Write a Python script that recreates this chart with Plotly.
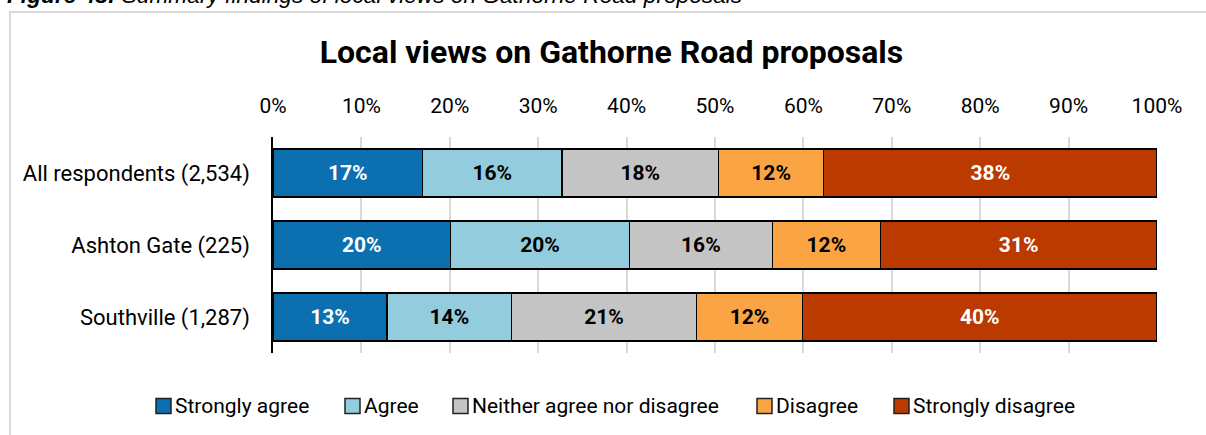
import plotly.graph_objects as go

categories = ["All respondents (2,534)", "Ashton Gate (225)", "Southville (1,287)"]
series_names = ["Strongly agree", "Agree", "Neither agree nor disagree", "Disagree", "Strongly disagree"]
strongly_agree = [16.9, 20.1, 12.9]
agree = [15.8, 20.2, 14.1]
neither = [17.7, 16.2, 20.9]
disagree = [11.9, 12.2, 12.0]
strongly_disagree = [37.7, 31.3, 40.1]
tick_values = [0, 10, 20, 30, 40, 50, 60, 70, 80, 90, 100]
tick_labels = ["0%", "10%", "20%", "30%", "40%", "50%", "60%", "70%", "80%", "90%", "100%"]

colors = ["#0B6FB0", "#93CDDD", "#C4C4C4", "#FAA443", "#BA3A00"]
text_colors = ["white", "black", "black", "black", "white"]
series_values = [strongly_agree, agree, neither, disagree, strongly_disagree]

FONT = "Roboto"
W, H = 1206, 435
ML, MR, MT, MB = 273, 49, 137, 82
PW, PH = W - ML - MR, H - MT - MB

fig = go.Figure()
for name, vals, col, tcol in zip(series_names, series_values, colors, text_colors):
    fig.add_trace(go.Bar(
        y=categories, x=vals, name=name, orientation="h",
        marker=dict(color=col, line=dict(color="black", width=1.5)),
        width=0.667, showlegend=False,
        texttemplate="%{x:.0f}%", textposition="inside", insidetextanchor="middle",
        textfont=dict(family=FONT, size=21, color=tcol, weight="bold"),
        hoverinfo="skip",
    ))

def px_x(p):
    return (p - ML) / PW

def px_y(p):
    return (H - MB - p) / PH

# outer chart frame (extends beyond the visible area on right/bottom)
fig.add_shape(type="rect", xref="paper", yref="paper",
              x0=px_x(10), x1=px_x(1400), y0=px_y(12), y1=px_y(600),
              line=dict(color="#D9D9D9", width=2), fillcolor="rgba(0,0,0,0)", layer="below")

# figure caption (partly cut off at the top, as in the source)
fig.add_annotation(xref="paper", yref="paper", x=px_x(5), y=px_y(10),
                   xanchor="left", yanchor="bottom", showarrow=False,
                   text="<b><i>Figure 48:</i></b><i> Summary findings of local views on Gathorne Road proposals</i>",
                   font=dict(family="Liberation Sans", size=22.7, color="black"))

# manual legend below the plot
legend_text_x = [175, 364, 472, 776, 913]
legend_y = 406
for name, col, tx in zip(series_names, colors, legend_text_x):
    fig.add_shape(type="rect", xref="paper", yref="paper",
                  x0=px_x(tx - 19), x1=px_x(tx - 4), y0=px_y(legend_y + 7.5), y1=px_y(legend_y - 7.5),
                  line=dict(color="#222222", width=1.5), fillcolor=col)
    fig.add_annotation(xref="paper", yref="paper", x=px_x(tx - 2), y=px_y(legend_y),
                       xanchor="left", yanchor="middle", showarrow=False, text=name,
                       font=dict(family=FONT, size=21, color="black"))

fig.update_layout(
    width=W, height=H,
    margin=dict(l=ML, r=MR, t=MT, b=MB),
    paper_bgcolor="white", plot_bgcolor="white",
    barmode="stack", bargap=0.333,
    font=dict(family=FONT, color="black"),
    title=dict(text="<b>Local views on Gathorne Road proposals</b>", x=611.5 / W, xanchor="center",
               xref="container", yref="container", y=1 - 52 / H, yanchor="middle",
               font=dict(family=FONT, size=32, color="black")),
    xaxis=dict(side="top", range=[0, 100], tickvals=tick_values, ticktext=tick_labels,
               showgrid=True, gridcolor="#D9D9D9", gridwidth=1.5, zeroline=False,
               showline=False, ticks="", ticklabelstandoff=19,
               tickfont=dict(family=FONT, size=21, color="black"), fixedrange=True),
    yaxis=dict(autorange="reversed", showline=True, linecolor="black", linewidth=1.5,
               ticks="", ticklabelstandoff=17, showgrid=False,
               tickfont=dict(family=FONT, size=22, color="black"), fixedrange=True),
    showlegend=False,
)

fig.write_html("out.html", config={"displayModeBar": False},
               post_script="document.body.style.margin='0px';")
